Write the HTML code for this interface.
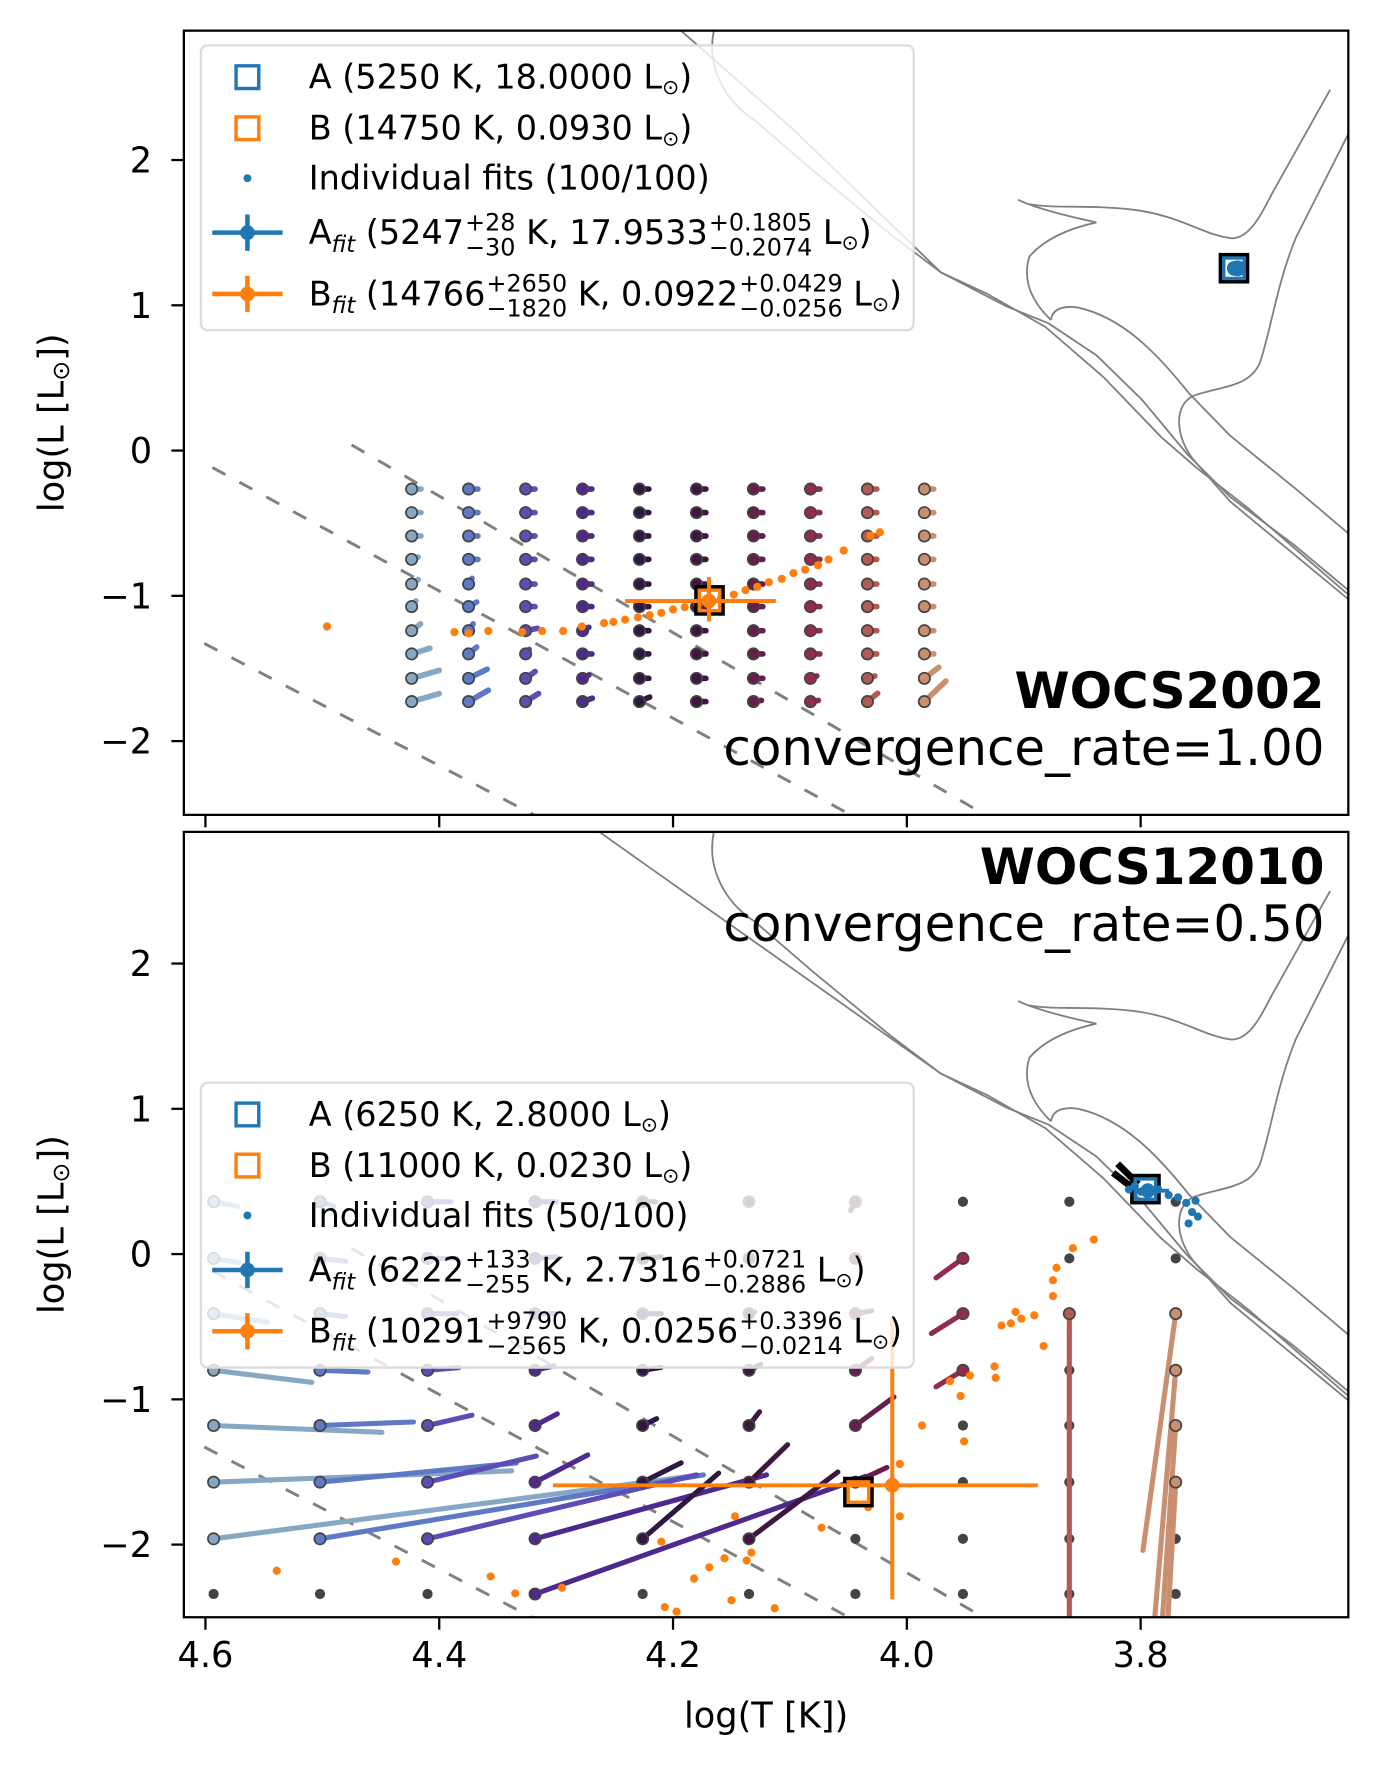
<!DOCTYPE html>
<html><head><meta charset="utf-8"><title>HR diagram fits</title>
<style>html,body{margin:0;padding:0;background:#fff}svg{display:block}text{font-family:"DejaVu Sans","Liberation Sans",sans-serif}</style>
</head><body>
<svg id="fig" xmlns="http://www.w3.org/2000/svg" width="1375" height="1775" viewBox="0 0 1211.5 1564" preserveAspectRatio="none">
<defs>
<clipPath id="clipTop"><rect x="162" y="27" width="1026" height="691"/></clipPath>
<clipPath id="clipBot"><rect x="162" y="733" width="1026" height="692"/></clipPath>
<g id="isoCommon">
<path d="M629,27 C622,60 640,90 665,106 L716,150 L784,206 L829,240 L870,259 L921,288 L972,332 L1023,385 L1054,412 L1100,448 L1188,524" />
<path d="M897,176 Q915,185 966,196 Q925,205 907,226 Q898,255 926,282" />
<path d="M907,180 C930,184 960,180 1000,185 C1040,190 1060,207 1085,210 C1100,210 1110,192 1120,172 L1172,79" />
<path d="M926,282 Q928,268 950,271 C990,280 1020,312 1048,347 L1084,384 L1142,431 L1188,470" />
<path d="M1188,118 L1142,209 C1125,250 1120,290 1110,320 C1100,342 1075,340 1051,349 C1033,358 1036,388 1054,408 L1084,442 L1188,528" />
</g>
<path id="isoTopA" d="M600,27 L700,115 L829,240 L887,270 L924,285 L966,313 L1006,352 L1046,400 L1084,438 L1140,480 L1188,520" />
<path id="isoBotA" d="M528,27 L829,240 L887,270 L924,285 L966,313 L1006,352 L1046,400 L1084,438 L1140,480 L1188,520" />
</defs>
<rect x="0" y="0" width="1211.5" height="1564" fill="#fff"/>
<g id="top-panel"></g>
<g id="bot-panel"></g>
</svg>
<script>
// ---------- data ----------
const gridTopT = [4.4236,4.3749,4.3261,4.2774,4.2287,4.1799,4.1312,4.0824,4.0337,3.985];
const gridTopL = [-0.265,-0.427,-0.588,-0.749,-0.919,-1.074,-1.24,-1.4,-1.568,-1.728];
const topStubDT = 0.008;
const topFitExceptions = [
 [0,3,4.418,-0.733],[0,4,4.418,-0.888],[0,5,4.420,-1.035],[0,6,4.416,-1.193],[0,7,4.408,-1.361],[0,8,4.400,-1.513],[0,9,4.400,-1.673],
 [1,4,4.372,-0.88],[1,5,4.368,-1.043],[1,6,4.371,-1.193],[1,7,4.368,-1.353],[1,8,4.359,-1.505],[1,9,4.358,-1.65],
 [2,6,4.316,-1.224],[2,7,4.323,-1.369],[2,8,4.318,-1.521],[2,9,4.315,-1.673],
 [3,6,4.272,-1.217],[3,8,4.272,-1.545],[3,9,4.269,-1.705],[4,9,4.220,-1.697],
 [6,9,4.1244,-1.72],[7,8,4.077,-1.552],[7,9,4.0756,-1.72],[8,8,4.0273,-1.552],[8,9,4.025,-1.671],
 [9,8,3.9726,-1.492],[9,9,3.9666,-1.587]
];
const topOrangeT = [4.496,4.387,4.375,4.358,4.329,4.312,4.294,4.278,4.259,4.251,4.241,4.230,4.220,4.210,4.200,4.190,4.179,4.169,4.159,4.148,4.138,4.128,4.118,4.107,4.097,4.087,4.076,4.067,4.054,4.031,4.023];
const topOrangeL = [-1.211,-1.25,-1.258,-1.242,-1.25,-1.242,-1.242,-1.211,-1.188,-1.18,-1.164,-1.148,-1.133,-1.117,-1.094,-1.078,-1.063,-1.039,-1.016,-0.992,-0.961,-0.938,-0.906,-0.883,-0.844,-0.82,-0.789,-0.75,-0.688,-0.586,-0.5625];
const topBlueT = [3.722,3.720,3.718,3.721,3.719,3.717];
const topBlueL = [1.25,1.26,1.255,1.245,1.262,1.25];

const gridBotT = [4.593,4.502,4.410,4.318,4.226,4.135,4.044,3.952,3.861,3.770];
const gridBotL = [0.36,-0.03,-0.41,-0.8,-1.18,-1.57,-1.96,-2.34];
const botFits = [
 [0,0,4.572,0.328],[0,1,4.571,-0.06],[0,2,4.547,-0.469],[0,3,4.509,-0.883],[0,4,4.449,-1.227],[0,5,4.338,-1.492],[0,6,4.179,-1.523],
 [1,0,4.49,0.33],[1,1,4.48,-0.05],[1,2,4.48,-0.43],[1,3,4.461,-0.812],[1,4,4.422,-1.156],[1,5,4.334,-1.438],[1,6,4.174,-1.52],
 [2,0,4.39,0.36],[2,1,4.385,-0.03],[2,2,4.385,-0.41],[2,3,4.383,-0.781],[2,4,4.372,-1.109],[2,5,4.317,-1.39],[2,6,4.18,-1.52],
 [3,0,4.3,0.36],[3,1,4.3,-0.02],[3,2,4.3,-0.41],[3,3,4.302,-0.77],[3,4,4.299,-1.10],[3,5,4.273,-1.383],[3,6,4.12,-1.52],[3,7,4.035,-1.53],
 [4,0,4.215,0.36],[4,1,4.21,-0.02],[4,2,4.21,-0.41],[4,3,4.21,-0.78],[4,4,4.214,-1.133],[4,5,4.193,-1.437],[4,6,4.161,-1.508],
 [5,0,4.135,0.36],[5,1,4.135,-0.03],[5,2,4.13,-0.40],[5,3,4.125,-0.76],[5,4,4.126,-1.086],[5,5,4.102,-1.312],[5,6,4.059,-1.5],
 [6,0,4.048,0.30],[6,1,4.044,-0.03],[6,2,4.03,-0.39],[6,3,4.03,-0.719],[6,4,4.011,-0.984],[6,5,4.017,-1.469],
 [7,1,3.975,-0.164],[7,2,3.979,-0.547],[7,3,3.975,-0.914],
 [8,2,3.861,-2.7],
 [9,2,3.798,-2.04],[9,3,3.79,-2.7],[9,4,3.783,-2.7],[9,5,3.778,-2.7]
];
const botOrangeT = [4.539,4.437,4.356,4.335,4.295,3.840,3.858,3.872,3.875,3.875,3.907,3.919,3.911,3.902,3.891,3.883,3.925,3.924,3.946,3.963,3.954,3.987,3.951,4.006,4.006,4.033,4.073,4.133,4.137,4.156,4.169,4.182,4.15,4.113,4.207,4.197,4.21,4.147];
const botOrangeL = [-2.18,-2.117,-2.219,-2.336,-2.297,0.10,0.04,-0.094,-0.18,-0.289,-0.398,-0.492,-0.477,-0.445,-0.422,-0.633,-0.773,-0.852,-0.836,-0.875,-0.977,-1.18,-1.289,-1.445,-1.805,-1.742,-1.883,-2.055,-2.109,-2.094,-2.156,-2.234,-2.383,-2.438,-2.43,-2.461,-1.98,-1.805];
const botBlueT = [3.810,3.805,3.800,3.790,3.785,3.776,3.768,3.761,3.756,3.751,3.759,3.753];
const botBlueL = [0.445,0.469,0.43,0.43,0.445,0.406,0.391,0.352,0.289,0.258,0.211,0.367];

// stars [T(K), L(Lsun), T+, T-, L+, L-]
const topTrueA = [5250,18.0]; const topTrueB = [14750,0.093];
const topFitA = [5247,17.9533,28,30,0.1805,0.2074];
const topFitB = [14766,0.0922,2650,1820,0.0429,0.0256];
const botTrueA = [6250,2.8]; const botTrueB = [11000,0.023];
const botFitA = [6222,2.7316,133,255,0.0721,0.2886];
const botFitB = [10291,0.0256,9790,2565,0.3396,0.0214];

const xTicks = [4.6,4.4,4.2,4.0,3.8];
const xTickLabels = ["4.6","4.4","4.2","4.0","3.8"];
const yTicks = [2,1,0,-1,-2];
const yTickLabels = ["2","1","0","\u22121","\u22122"];
const colColors = ["#86a8c4","#5f7ac4","#5d4db6","#4f2a8e","#2f1742","#3e1640","#671d4d","#922c4b","#b45a52","#c98f70"];
const radLines = [[4.594,-0.117,4.048,-2.508],[4.475,0.039,3.933,-2.508],[4.601,-1.328,4.319,-2.508]];

// ---------- helpers ----------
const NS = "http://www.w3.org/2000/svg";
function X(v){return 181 + (4.6 - v) * 1030;}
function mk(tag, attrs, parent){const e=document.createElementNS(NS,tag);for(const k in attrs)e.setAttribute(k,attrs[k]);parent.appendChild(e);return e;}
const lg = Math.log10;
const SP = '\u00a0';

function drawPanel(g, y0, yTop, yBot, d){
  const Y = v => y0 - 128 * v;
  const plot = mk('g', {'clip-path':'url(#'+d.clip+')'}, g);
  
  
  const isoG = mk('g', {transform:'translate(0,'+(yTop-27)+')', fill:'none', stroke:'#808080', 'stroke-width':'1.6'}, plot);
  
  
  mk('use', {href:'#isoCommon'}, isoG);
  mk('use', {href:d.isoA}, isoG);
  radLines.forEach(r=>{
    const l = mk('line', {x1:X(r[0]), y1:Y(r[1]), x2:X(r[2]), y2:Y(r[3]), stroke:'#808080', 'stroke-width':'2.6', 'stroke-dasharray':'13,14'}, plot);
    
    
  });
  d.segs.forEach(s=>{
    if (s.fit) {
      const ln = mk('line', {x1:X(s.t), y1:Y(s.l), x2:X(s.ft), y2:Y(s.fl), stroke:colColors[s.c], 'stroke-width': d.lw, 'stroke-linecap':'round'}, plot);
      
      
      const c = mk('circle', {cx:X(s.t), cy:Y(s.l), r:5, fill:colColors[s.c], stroke:'#444', 'stroke-width':'1.5'}, plot);
      
      
    } else {
      const c = mk('circle', {cx:X(s.t), cy:Y(s.l), r:4.5, fill:'#444'}, plot);
      
      
    }
  });
  d.orT.forEach((t,i)=>{
    const c = mk('circle', {cx:X(t), cy:Y(d.orL[i]), r:3.6, fill:'#ff7f0e'}, plot);
    
    
  });
  if (d.arrow) {
    const a = mk('path', {d:'M'+(X(3.81)-10)+','+(Y(0.45)-22)+' L'+X(3.802)+','+(Y(0.45)-4)+' M'+(X(3.81)-14)+','+(Y(0.45)-14)+' L'+X(3.806)+','+(Y(0.45)), stroke:'#000', 'stroke-width':'6', fill:'none'}, plot);
    
    
  }
  const sqA = mk('rect', {x:X(lg(d.trueA[0]))-11, y:Y(lg(d.trueA[1]))-11, width:22, height:22, fill:'none', stroke:'#000', 'stroke-width':'5'}, plot);
  
  
  mk('rect', {x:X(lg(d.trueA[0]))-9, y:Y(lg(d.trueA[1]))-9, width:18, height:18, fill:'none', stroke:'#1f77b4', 'stroke-width':'3'}, plot);
  d.blT.forEach((t,i)=>{
    const c = mk('circle', {cx:X(t), cy:Y(d.blL[i]), r:3.6, fill:'#1f77b4'}, plot);
    
    
  });
  const sqB = mk('rect', {x:X(lg(d.trueB[0]))-11, y:Y(lg(d.trueB[1]))-11, width:22, height:22, fill:'none', stroke:'#000', 'stroke-width':'5'}, plot);
  
  
  mk('rect', {x:X(lg(d.trueB[0]))-9, y:Y(lg(d.trueB[1]))-9, width:18, height:18, fill:'none', stroke:'#ff7f0e', 'stroke-width':'3'}, plot);
  [[d.fitA,'#1f77b4','fit-a-errorbar'],[d.fitB,'#ff7f0e','fit-b-errorbar']].forEach(([f,col,nm])=>{
    const cx=X(lg(f[0])), cy=Y(lg(f[1]));
    const eg = mk('g', {}, plot);
    
    
    mk('line', {x1:X(lg(f[0]+f[2])), y1:cy, x2:X(lg(f[0]-f[3])), y2:cy, stroke:col, 'stroke-width':'3.5'}, eg);
    mk('line', {x1:cx, y1:Y(lg(f[1]+f[4])), x2:cx, y2:Y(lg(f[1]-f[5])), stroke:col, 'stroke-width':'3.5'}, eg);
    mk('circle', {cx:cx, cy:cy, r:6.5, fill:col}, eg);
  });
  if (d.blueDot) {
    const c = mk('circle', {cx:X(lg(d.fitA[0]))+3, cy:Y(lg(d.fitA[1])), r:7, fill:'#1f77b4'}, plot);
    
    
  }
  const fr = mk('rect', {x:162, y:yTop, width:1026, height:yBot-yTop, fill:'none', stroke:'#000', 'stroke-width':'2'}, g);
  
  
  xTicks.forEach((v,i)=>{
    const t = mk('line', {x1:X(v), y1:yBot, x2:X(v), y2:yBot+11, stroke:'#000', 'stroke-width':'2'}, g);
    
    
    if (d.xLabels) {
      const tx = mk('text', {x:X(v), y:yBot+44, 'font-size':'31', 'text-anchor':'middle'}, g);
      tx.textContent = xTickLabels[i];
      
      
    }
  });
  yTicks.forEach((v,i)=>{
    const t = mk('line', {x1:151, y1:Y(v), x2:162, y2:Y(v), stroke:'#000', 'stroke-width':'2'}, g);
    
    
    const tx = mk('text', {x:134, y:Y(v)+11, 'font-size':'31', 'text-anchor':'end'}, g);
    tx.textContent = yTickLabels[i];
    
    
  });
  const yl = mk('text', {x:0, y:0, 'font-size':'31', 'text-anchor':'middle', transform:'translate(56,'+((yTop+yBot)/2)+') rotate(-90)'}, g);
  
  
  yl.innerHTML = 'log(L [L<tspan font-size="21" dy="5">\u2299</tspan><tspan dy="-5">])</tspan>';
  const t1 = mk('text', {x:1167, y:d.titleY, 'font-size':'44', 'font-weight':'bold', 'text-anchor':'end'}, g);
  t1.textContent = d.title;
  
  
  const t2 = mk('text', {x:1167, y:d.titleY+50, 'font-size':'44', 'text-anchor':'end'}, g);
  t2.textContent = d.conv;
  
  
  drawLegend(g, d.legY, d.leg);
}

function rich(parent, x, y, pieces){
  let cx = x;
  pieces.forEach(p=>{
    if (p.stack){
      const a = mk('text', {x:cx+1, y:y-12, 'font-size':'21'}, parent); a.textContent = p.stack[0];
      const b = mk('text', {x:cx+1, y:y+10, 'font-size':'21'}, parent); b.textContent = p.stack[1];
      cx += Math.max(a.getComputedTextLength(), b.getComputedTextLength()) + 1;
    } else {
      const t = mk('text', {x:cx, y:y+(p.dy||0), 'font-size':p.s||29.5}, parent);
      if (p.it) t.setAttribute('font-style','italic');
      t.textContent = p.t;
      cx += t.getComputedTextLength();
    }
  });
}

function drawLegend(g, y0, L){
  const lgG = mk('g', {}, g);
  
  
  mk('rect', {x:177, y:y0, width:628, height:251, rx:6, fill:'#fff', 'fill-opacity':'0.8', stroke:'#dcdcdc', 'stroke-width':'2'}, lgG);
  const rows = [y0+28, y0+73, y0+117, y0+165, y0+219];
  const e1 = mk('g', {}, lgG);  
  mk('rect', {x:208, y:rows[0]-10, width:20, height:20, fill:'none', stroke:'#1f77b4', 'stroke-width':'3'}, e1);
  rich(e1, 272, rows[0]+10, [{t:L.a},{t:'\u2299', s:18, dy:5},{t:')'}]);
  const e2 = mk('g', {}, lgG);  
  mk('rect', {x:208, y:rows[1]-10, width:20, height:20, fill:'none', stroke:'#ff7f0e', 'stroke-width':'3'}, e2);
  rich(e2, 272, rows[1]+10, [{t:L.b},{t:'\u2299', s:18, dy:5},{t:')'}]);
  const e3 = mk('g', {}, lgG);  
  mk('circle', {cx:218, cy:rows[2], r:3.5, fill:'#1f77b4'}, e3);
  rich(e3, 272, rows[2]+10, [{t:L.ind}]);
  [[L.fa,'#1f77b4','A','legend-entry-fit-a'],[L.fb,'#ff7f0e','B','legend-entry-fit-b']].forEach(([f,col,nm,dn],k)=>{
    const e = mk('g', {}, lgG);  
    const ry = rows[3+k];
    mk('line', {x1:187, y1:ry, x2:249, y2:ry, stroke:col, 'stroke-width':'4'}, e);
    mk('line', {x1:218, y1:ry-16, x2:218, y2:ry+16, stroke:col, 'stroke-width':'4'}, e);
    mk('circle', {cx:218, cy:ry, r:6.5, fill:col}, e);
    rich(e, 272, ry+10, [{t:nm},{t:'fit',s:20,it:true,dy:7},{t:SP+'('+f[0]},{stack:f[1]},{t:SP+'K,'+SP+f[2]},{stack:f[3]},{t:SP+'L'},{t:'\u2299',s:18,dy:5},{t:')'}]);
  });
}

function buildTopSegs(){
  const segs=[];
  gridTopT.forEach((t,c)=>gridTopL.forEach((l,r)=>{
    const ex = topFitExceptions.find(e=>e[0]===c&&e[1]===r);
    segs.push({c:c,t:t,l:l,fit:true,ft:ex?ex[2]:t-topStubDT,fl:ex?ex[3]:l});
  }));
  return segs;
}
function buildBotSegs(){
  const segs=[];
  gridBotT.forEach((t,c)=>gridBotL.forEach((l,r)=>{
    const ex = botFits.find(e=>e[0]===c&&e[1]===r);
    segs.push({c:c,t:t,l:l,fit:!!ex,ft:ex?ex[2]:t,fl:ex?ex[3]:l});
  }));
  segs.sort((a,b)=>(a.fit?1:0)-(b.fit?1:0));
  return segs;
}

drawPanel(document.getElementById('top-panel'), 397, 27, 718, {
  clip:'clipTop', lw:5, isoA:'#isoTopA', segs:buildTopSegs(), orT:topOrangeT, orL:topOrangeL, blT:topBlueT, blL:topBlueL,
  trueA:topTrueA, trueB:topTrueB, fitA:topFitA, fitB:topFitB, blueDot:true, arrow:false,
  title:'WOCS2002', conv:'convergence_rate=1.00', titleY:624, xLabels:false, legY:40,
  leg:{a:'A (5250 K, 18.0000 L', b:'B (14750 K, 0.0930 L', ind:'Individual fits (100/100)',
       fa:['5247',['+28','\u221230'],'17.9533',['+0.1805','\u22120.2074']],
       fb:['14766',['+2650','\u22121820'],'0.0922',['+0.0429','\u22120.0256']]}
});
drawPanel(document.getElementById('bot-panel'), 1105, 733, 1425, {
  clip:'clipBot', lw:4.5, isoA:'#isoBotA', segs:buildBotSegs(), orT:botOrangeT, orL:botOrangeL, blT:botBlueT, blL:botBlueL,
  trueA:botTrueA, trueB:botTrueB, fitA:botFitA, fitB:botFitB, blueDot:false, arrow:true,
  title:'WOCS12010', conv:'convergence_rate=0.50', titleY:779, xLabels:true, legY:954,
  leg:{a:'A (6250 K, 2.8000 L', b:'B (11000 K, 0.0230 L', ind:'Individual fits (50/100)',
       fa:['6222',['+133','\u2212255'],'2.7316',['+0.0721','\u22120.2886']],
       fb:['10291',['+9790','\u22122565'],'0.0256',['+0.3396','\u22120.0214']]}
});
const xl = mk('text', {x:675, y:1522, 'font-size':'31', 'text-anchor':'middle'}, document.getElementById('fig'));
xl.textContent = 'log(T [K])';


</script>
</body></html>
